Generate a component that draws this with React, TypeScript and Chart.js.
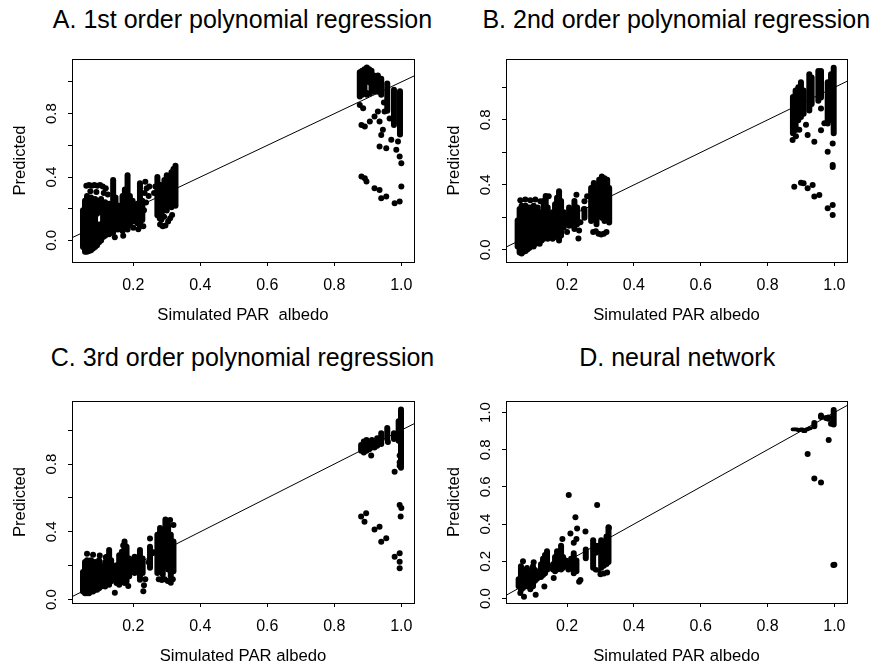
import React, { useEffect, useRef } from 'react';
import { Chart, registerables } from 'chart.js';

Chart.register(...registerables);

const FONT = '"Liberation Sans", Arial, Helvetica, sans-serif';

// ---------- axis data ----------
const xTickValues = [0.2, 0.4, 0.6, 0.8, 1.0];
const xTickLabels = ['0.2', '0.4', '0.6', '0.8', '1.0'];
const yTickValues = [0.0, 0.2, 0.4, 0.6, 0.8, 1.0];
const yTickLabelsPoly = ['0.0', '', '0.4', '', '0.8', ''];
const yTickLabelsNet = ['0.0', '0.2', '0.4', '0.6', '0.8', '1.0'];
const xRange = [0.0172, 1.0378];
const diagonal = [-0.5, 1.5];

const titles = [
  'A. 1st order polynomial regression',
  'B. 2nd order polynomial regression',
  'C. 3rd order polynomial regression',
  'D. neural network',
];
const xTitles = ['Simulated PAR  albedo', 'Simulated PAR albedo', 'Simulated PAR albedo', 'Simulated PAR albedo'];
const yTitle = 'Predicted';

const aYRange = [-0.136, 1.145];
const bYRange = [-0.0745, 1.175];
const cYRange = [-0.02, 1.172];
const dYRange = [-0.024, 1.062];

// ---------- panel A: runs of overlapping points [x, yLow, yHigh], single points [x, y] ----------
const aRuns: number[][] = [
  [0.050, -0.06, 0.21], [0.056, -0.09, 0.27], [0.062, -0.09, 0.30], [0.068, -0.085, 0.27],
  [0.074, -0.08, 0.29], [0.080, -0.07, 0.24], [0.086, -0.06, 0.28], [0.092, -0.05, 0.11],
  [0.092, 0.15, 0.27], [0.098, -0.03, 0.12], [0.098, 0.16, 0.22], [0.104, -0.02, 0.12],
  [0.104, 0.16, 0.28], [0.110, 0.00, 0.20], [0.116, 0.01, 0.26], [0.122, 0.03, 0.22],
  [0.128, 0.02, 0.25], [0.140, 0.03, 0.40], [0.147, 0.06, 0.29], [0.154, 0.05, 0.24],
  [0.161, 0.07, 0.22], [0.168, 0.04, 0.30], [0.175, 0.06, 0.34], [0.183, 0.05, 0.43],
  [0.190, 0.08, 0.30], [0.198, 0.10, 0.27], [0.205, 0.12, 0.22], [0.212, 0.09, 0.25],
  [0.220, 0.07, 0.38], [0.227, 0.11, 0.27], [0.272, 0.14, 0.42], [0.279, 0.12, 0.37],
  [0.286, 0.16, 0.34], [0.293, 0.20, 0.40], [0.300, 0.17, 0.43], [0.307, 0.21, 0.41],
  [0.314, 0.19, 0.45], [0.320, 0.22, 0.47], [0.326, 0.20, 0.49],
  [0.876, 0.89, 1.08], [0.883, 0.90, 1.09], [0.890, 0.91, 1.10], [0.897, 0.99, 1.11],
  [0.897, 0.90, 0.95], [0.904, 0.98, 1.10], [0.904, 0.91, 0.93], [0.911, 0.92, 1.09],
  [0.918, 0.92, 1.06], [0.930, 0.92, 1.06], [0.940, 0.90, 1.04], [0.958, 0.80, 1.01],
  [0.978, 0.71, 0.97], [0.996, 0.65, 0.96],
];
const aDots: number[][] = [
  [0.060, 0.345], [0.068, 0.35], [0.076, 0.345], [0.084, 0.35], [0.093, 0.345], [0.101, 0.35],
  [0.109, 0.34], [0.118, 0.33], [0.072, 0.31], [0.090, 0.305], [0.112, 0.30], [0.124, 0.29],
  [0.234, 0.30], [0.236, 0.37], [0.240, 0.33], [0.246, 0.28], [0.248, 0.34], [0.232, 0.19],
  [0.238, 0.24], [0.262, 0.30], [0.266, 0.34], [0.280, 0.10], [0.288, 0.09], [0.296, 0.095],
  [0.304, 0.12], [0.310, 0.14], [0.316, 0.16], [0.284, 0.13], [0.292, 0.15], [0.145, 0.02],
  [0.170, 0.03], [0.215, 0.07], [0.230, 0.09], [0.200, 0.08],
  [0.876, 0.855], [0.886, 0.834], [0.881, 0.729], [0.891, 0.719], [0.906, 0.75], [0.920, 0.782],
  [0.930, 0.813], [0.935, 0.75], [0.950, 0.813], [0.945, 0.698], [0.940, 0.666], [0.935, 0.593],
  [0.955, 0.582], [0.970, 0.635], [0.990, 0.624], [0.985, 0.572], [0.995, 0.529], [1.000, 0.487],
  [0.881, 0.403], [0.891, 0.393], [0.896, 0.372], [0.920, 0.33], [0.935, 0.319], [0.940, 0.266],
  [0.955, 0.277], [0.980, 0.235], [0.995, 0.245], [1.000, 0.34], [0.948, 0.87], [0.965, 0.77],
];

// ---------- panel B ----------
const bRuns: number[][] = [
  [0.052, 0.00, 0.20], [0.058, -0.035, 0.27], [0.064, -0.04, 0.29], [0.070, -0.03, 0.27],
  [0.076, -0.025, 0.29], [0.082, -0.015, 0.26], [0.088, -0.005, 0.28], [0.094, 0.005, 0.13],
  [0.094, 0.17, 0.25], [0.100, 0.00, 0.29], [0.106, 0.02, 0.24], [0.112, 0.03, 0.28],
  [0.118, 0.02, 0.22], [0.124, 0.04, 0.25], [0.130, 0.05, 0.32], [0.136, 0.06, 0.35],
  [0.142, 0.05, 0.28], [0.150, 0.07, 0.22], [0.157, 0.05, 0.25], [0.164, 0.08, 0.30],
  [0.170, 0.06, 0.34], [0.176, 0.04, 0.38], [0.182, 0.07, 0.32], [0.190, 0.12, 0.25],
  [0.198, 0.15, 0.23], [0.206, 0.13, 0.28], [0.214, 0.16, 0.26], [0.222, 0.11, 0.32],
  [0.230, 0.14, 0.28], [0.252, 0.18, 0.27], [0.272, 0.16, 0.40], [0.280, 0.18, 0.43],
  [0.288, 0.14, 0.38], [0.296, 0.20, 0.45], [0.304, 0.18, 0.47], [0.312, 0.16, 0.46],
  [0.320, 0.20, 0.45], [0.326, 0.15, 0.40],
  [0.876, 0.70, 0.96], [0.884, 0.72, 1.00], [0.892, 0.78, 1.02], [0.900, 0.80, 1.05],
  [0.908, 0.82, 1.00], [0.925, 0.84, 1.10], [0.932, 0.88, 1.08], [0.952, 0.90, 1.12],
  [0.960, 0.92, 1.12], [0.980, 0.76, 1.05], [0.990, 0.78, 1.10], [0.998, 0.70, 1.14],
];
const bDots: number[][] = [
  [0.234, 0.07], [0.236, 0.12], [0.240, 0.17], [0.278, 0.11], [0.286, 0.115], [0.294, 0.10],
  [0.302, 0.095], [0.310, 0.10], [0.318, 0.11], [0.250, 0.25], [0.252, 0.30], [0.260, 0.33],
  [0.060, 0.305], [0.075, 0.31], [0.090, 0.305], [0.105, 0.31], [0.120, 0.30], [0.145, 0.33],
  [0.200, 0.11], [0.216, 0.15], [0.228, 0.34],
  [0.875, 0.676], [0.885, 0.70], [0.895, 0.74], [0.920, 0.707], [0.940, 0.666], [0.960, 0.737],
  [0.960, 0.87], [0.980, 0.604], [0.995, 0.655], [0.995, 0.522], [0.995, 0.51], [0.880, 0.389],
  [0.900, 0.413], [0.908, 0.41], [0.920, 0.379], [0.935, 0.40], [0.940, 0.328], [0.955, 0.338],
  [0.980, 0.256], [0.995, 0.276], [0.995, 0.215], [0.970, 0.78], [0.915, 0.77],
];

// ---------- panel C ----------
const cRuns: number[][] = [
  [0.050, 0.03, 0.18], [0.056, 0.02, 0.24], [0.062, 0.02, 0.25], [0.068, 0.02, 0.22],
  [0.074, 0.03, 0.25], [0.080, 0.03, 0.21], [0.086, 0.04, 0.24], [0.092, 0.04, 0.20],
  [0.098, 0.05, 0.25], [0.104, 0.06, 0.21], [0.110, 0.07, 0.18], [0.116, 0.06, 0.24],
  [0.122, 0.08, 0.27], [0.128, 0.07, 0.31], [0.134, 0.09, 0.25], [0.142, 0.10, 0.20],
  [0.150, 0.08, 0.22], [0.158, 0.07, 0.28], [0.166, 0.10, 0.30], [0.174, 0.08, 0.36],
  [0.180, 0.09, 0.33], [0.188, 0.12, 0.26], [0.196, 0.15, 0.24], [0.204, 0.14, 0.27],
  [0.212, 0.15, 0.25], [0.220, 0.10, 0.31], [0.228, 0.14, 0.26], [0.250, 0.17, 0.33],
  [0.272, 0.14, 0.40], [0.280, 0.16, 0.44], [0.288, 0.13, 0.42], [0.296, 0.18, 0.49],
  [0.304, 0.16, 0.46], [0.312, 0.12, 0.40], [0.320, 0.15, 0.36],
  [0.880, 0.86, 0.93], [0.888, 0.85, 0.95], [0.896, 0.86, 0.96], [0.904, 0.87, 0.94],
  [0.912, 0.88, 0.96], [0.920, 0.88, 0.95], [0.928, 0.89, 0.97], [0.940, 0.90, 1.00],
  [0.958, 0.93, 1.03], [0.978, 0.93, 1.00], [0.992, 0.92, 1.07], [0.999, 0.76, 1.14],
];
const cDots: number[][] = [
  [0.230, 0.05], [0.232, 0.085], [0.236, 0.12], [0.276, 0.12], [0.285, 0.115], [0.294, 0.12],
  [0.303, 0.11], [0.312, 0.10], [0.318, 0.12], [0.250, 0.36], [0.246, 0.22], [0.260, 0.28],
  [0.062, 0.27], [0.080, 0.265], [0.100, 0.26], [0.118, 0.25], [0.145, 0.04], [0.185, 0.08],
  [0.170, 0.32], [0.320, 0.44], [0.310, 0.47],
  [0.980, 0.755], [0.995, 0.85], [0.995, 0.81], [0.995, 0.79], [0.995, 0.558], [1.000, 0.54],
  [0.998, 0.49], [0.880, 0.49], [0.895, 0.509], [0.890, 0.46], [0.920, 0.414], [0.935, 0.43],
  [0.940, 0.342], [0.955, 0.362], [0.980, 0.253], [0.995, 0.273], [0.995, 0.224], [0.995, 0.185],
  [0.960, 0.93], [0.910, 0.85],
];

// ---------- panel D ----------
const dRuns: number[][] = [
  [0.055, 0.05, 0.12], [0.062, 0.03, 0.19], [0.068, 0.04, 0.17], [0.074, 0.06, 0.14],
  [0.080, 0.05, 0.18], [0.086, 0.06, 0.15], [0.092, 0.07, 0.13], [0.098, 0.05, 0.19],
  [0.104, 0.08, 0.17], [0.110, 0.09, 0.15], [0.116, 0.10, 0.16], [0.122, 0.10, 0.20],
  [0.128, 0.11, 0.23], [0.134, 0.12, 0.25], [0.140, 0.14, 0.27], [0.158, 0.14, 0.20],
  [0.164, 0.13, 0.24], [0.170, 0.14, 0.27], [0.176, 0.15, 0.26], [0.182, 0.14, 0.30],
  [0.188, 0.15, 0.24], [0.196, 0.16, 0.22], [0.204, 0.14, 0.20], [0.212, 0.15, 0.23],
  [0.220, 0.12, 0.26], [0.228, 0.13, 0.22], [0.256, 0.20, 0.28], [0.278, 0.15, 0.33],
  [0.286, 0.14, 0.17], [0.286, 0.23, 0.30], [0.294, 0.14, 0.16], [0.294, 0.24, 0.30],
  [0.302, 0.15, 0.33], [0.310, 0.16, 0.31], [0.318, 0.17, 0.35], [0.324, 0.18, 0.40],
  [0.878, 0.90, 0.92], [0.886, 0.90, 0.92], [0.894, 0.895, 0.915], [0.902, 0.90, 0.92],
  [0.910, 0.89, 0.91], [0.918, 0.90, 0.92], [0.926, 0.905, 0.925], [0.940, 0.91, 0.96],
  [0.960, 0.96, 1.00], [0.982, 0.95, 0.99], [0.998, 0.92, 1.03],
];
const dDots: number[][] = [
  [0.071, 0.01], [0.106, 0.02], [0.132, 0.065], [0.205, 0.556], [0.290, 0.503], [0.225, 0.437],
  [0.230, 0.377], [0.210, 0.35], [0.186, 0.32], [0.255, 0.36], [0.240, 0.10], [0.236, 0.09],
  [0.068, 0.20], [0.100, 0.195], [0.220, 0.30], [0.228, 0.32], [0.160, 0.11], [0.300, 0.13],
  [0.310, 0.135], [0.320, 0.14], [0.325, 0.38], [0.060, 0.03], [0.090, 0.05],
  [0.920, 0.777], [0.940, 0.646], [0.960, 0.624], [0.983, 0.852], [0.997, 0.18], [1.000, 0.182],
  [0.990, 0.94], [0.975, 0.97],
];

// ---------- layout (page pixels) ----------
const Y_AXIS_W = 62;
const X_AXIS_H = 62;
const PAD_TOP = 20;
const PAD_RIGHT = 12;

const panels = [
  { title: titles[0], xTitle: xTitles[0], runs: aRuns, dots: aDots, yRange: aYRange, yLabels: yTickLabelsPoly,
    box: { left: 72, right: 414, top: 59, bottom: 262 }, titleX: 242.5, titleTop: 7 },
  { title: titles[1], xTitle: xTitles[1], runs: bRuns, dots: bDots, yRange: bYRange, yLabels: yTickLabelsPoly,
    box: { left: 506, right: 847, top: 59, bottom: 262 }, titleX: 676.3, titleTop: 7 },
  { title: titles[2], xTitle: xTitles[2], runs: cRuns, dots: cDots, yRange: cYRange, yLabels: yTickLabelsPoly,
    box: { left: 72, right: 414, top: 401, bottom: 603 }, titleX: 242.5, titleTop: 345 },
  { title: titles[3], xTitle: xTitles[3], runs: dRuns, dots: dDots, yRange: dYRange, yLabels: yTickLabelsNet,
    box: { left: 506, right: 847, top: 401, bottom: 603 }, titleX: 677.2, titleTop: 345 },
];

const framePlugin = {
  id: 'frame',
  afterDatasetsDraw(chart: any) {
    const { ctx, chartArea: a } = chart;
    const al = (v: number) => Math.round(v - 0.5) + 0.5;
    ctx.save();
    ctx.strokeStyle = '#000';
    ctx.lineWidth = 1;
    ctx.strokeRect(al(a.left), al(a.top), al(a.right) - al(a.left), al(a.bottom) - al(a.top));
    ctx.restore();
  },
};

function Panel({ spec }: { spec: any }) {
  const ref = useRef<HTMLCanvasElement>(null);
  const { box } = spec;
  const cw = Y_AXIS_W + (box.right - box.left) + PAD_RIGHT;
  const ch = PAD_TOP + (box.bottom - box.top) + X_AXIS_H;

  useEffect(() => {
    const gridOpts = { display: true, drawOnChartArea: false, drawTicks: true, tickLength: 4, color: '#000', lineWidth: 1, offset: false };
    const borderOpts = { display: true, color: '#000', width: 1 };
    const chart = new Chart(ref.current as HTMLCanvasElement, {
      type: 'scatter',
      data: {
        datasets: [
          {
            type: 'line',
            data: diagonal.map((v) => ({ x: v, y: v })),
            borderColor: '#000',
            borderWidth: 1,
            pointRadius: 0,
            fill: false,
          } as any,
          {
            type: 'bar',
            data: spec.runs.map((r: number[]) => ({ x: r[0], y: [r[1], r[2]] })),
            backgroundColor: '#000',
            borderWidth: 0,
            barThickness: 6,
            borderRadius: 3,
            borderSkipped: false,
            inflateAmount: 0,
            grouped: false,
          } as any,
          {
            type: 'scatter',
            data: spec.dots.map((d: number[]) => ({ x: d[0], y: d[1] })),
            backgroundColor: '#000',
            borderWidth: 0,
            pointRadius: 3,
            pointHoverRadius: 3,
          } as any,
        ],
      },
      options: {
        responsive: false,
        animation: false,
        devicePixelRatio: 1,
        events: [],
        layout: { padding: { top: PAD_TOP, right: PAD_RIGHT, left: 0, bottom: 0 } },
        plugins: { legend: { display: false }, tooltip: { enabled: false }, title: { display: false } },
        scales: {
          x: {
            type: 'linear',
            min: xRange[0],
            max: xRange[1],
            offset: false,
            afterBuildTicks: (s: any) => { s.ticks = xTickValues.map((v) => ({ value: v })); },
            afterFit: (s: any) => { s.height = X_AXIS_H; },
            ticks: {
              callback: (_v: any, i: number) => xTickLabels[i],
              font: { family: FONT, size: 16 },
              color: '#000',
              padding: 9.5,
              minRotation: 0,
              maxRotation: 0,
              autoSkip: false,
            },
            grid: gridOpts,
            border: borderOpts,
            title: {
              display: true,
              text: spec.xTitle,
              font: { family: FONT, size: 16.7, lineHeight: 1 },
              color: '#000',
              padding: { top: 0, bottom: 0.6 },
            },
          },
          y: {
            type: 'linear',
            min: spec.yRange[0],
            max: spec.yRange[1],
            afterBuildTicks: (s: any) => { s.ticks = yTickValues.map((v) => ({ value: v })); },
            afterFit: (s: any) => { s.width = Y_AXIS_W; },
            ticks: {
              callback: (_v: any, i: number) => spec.yLabels[i],
              font: { family: FONT, size: 15 },
              color: '#000',
              padding: 6.1,
              minRotation: 90,
              maxRotation: 90,
              crossAlign: 'center',
              autoSkip: false,
            },
            grid: gridOpts,
            border: borderOpts,
            title: {
              display: true,
              text: yTitle,
              font: { family: FONT, size: 16.6, lineHeight: 1 },
              color: '#000',
              padding: { top: 1.7, bottom: 0 },
            },
          },
        },
      } as any,
      plugins: [framePlugin],
    });
    return () => chart.destroy();
  }, []);

  return (
    <>
      <div
        style={{
          position: 'absolute',
          left: spec.titleX - 250,
          width: 500,
          top: spec.titleTop,
          textAlign: 'center',
          fontFamily: FONT,
          fontSize: 25,
          lineHeight: '25px',
          color: '#000',
          whiteSpace: 'nowrap',
        }}
      >
        {spec.title}
      </div>
      <canvas
        ref={ref}
        width={cw}
        height={ch}
        style={{ position: 'absolute', left: box.left - Y_AXIS_W, top: box.top - PAD_TOP, width: cw, height: ch }}
      />
    </>
  );
}

export default function App() {
  return (
    <div
      style={{
        position: 'absolute',
        left: 0,
        top: 0,
        width: 873,
        height: 664,
        overflow: 'hidden',
        background: '#fff',
      }}
    >
      {panels.map((p, i) => (
        <Panel key={i} spec={p} />
      ))}
    </div>
  );
}
